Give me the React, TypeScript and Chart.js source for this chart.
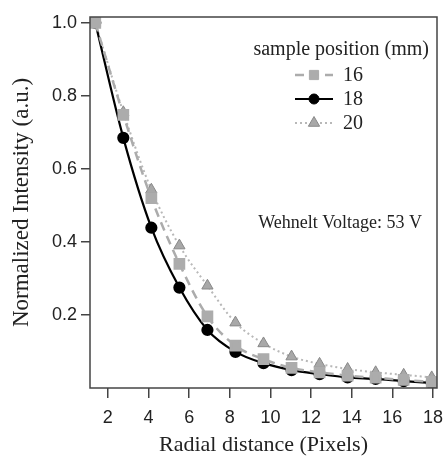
import React, { useEffect, useRef } from "react";
import { Chart, registerables } from "chart.js";

Chart.register(...registerables);

const radialPixels = [1.38, 2.76, 4.14, 5.52, 6.9, 8.28, 9.66, 11.04, 12.42, 13.8, 15.18, 16.56, 17.94];
const pos16 = [1.0, 0.748, 0.52, 0.34, 0.196, 0.116, 0.079, 0.055, 0.043, 0.034, 0.028, 0.022, 0.017];
const pos18 = [1.0, 0.685, 0.439, 0.275, 0.159, 0.099, 0.068, 0.049, 0.038, 0.029, 0.025, 0.019, 0.014];
const pos20 = [1.0, 0.755, 0.543, 0.39, 0.28, 0.179, 0.122, 0.086, 0.066, 0.052, 0.043, 0.036, 0.029];
const seriesLabels = ["16", "18", "20"];
const xTicks = [2, 4, 6, 8, 10, 12, 14, 16, 18];
const yTicks = [0.2, 0.4, 0.6, 0.8, 1.0];
const legendTitle = "sample position (mm)";
const annotationText = "Wehnelt Voltage: 53 V";
const xTitle = "Radial distance (Pixels)";
const yTitle = "Normalized Intensity (a.u.)";

const SERIF = "'Liberation Serif', 'Times New Roman', serif";
const SANS = "'Liberation Sans', Arial, sans-serif";

const framePlugin = {
  id: "frameAndLegend",
  afterDatasetsDraw(chart: any) {
    const { ctx, chartArea } = chart;
    ctx.save();
    ctx.strokeStyle = "#444";
    ctx.lineWidth = 1.5;
    ctx.strokeRect(chartArea.left, chartArea.top, chartArea.right - chartArea.left, chartArea.bottom - chartArea.top);

    // annotation
    ctx.fillStyle = "#222";
    ctx.font = `18px ${SERIF}`;
    ctx.textAlign = "right";
    ctx.textBaseline = "middle";
    ctx.fillText(annotationText, 422, 223);

    // legend
    ctx.font = `20px ${SERIF}`;
    ctx.textAlign = "right";
    ctx.fillText(legendTitle, 429, 50);
    const ys = [75, 99, 123];
    chart.data.datasets.forEach((ds: any, i: number) => {
      const y = ys[i];
      const x0 = 295, x1 = 333, xm = 314;
      ctx.save();
      ctx.strokeStyle = ds.borderColor;
      ctx.lineWidth = ds.borderWidth;
      ctx.setLineDash(ds.borderDash || []);
      ctx.beginPath();
      ctx.moveTo(x0, y);
      ctx.lineTo(x1, y);
      ctx.stroke();
      ctx.restore();
      ctx.save();
      ctx.fillStyle = ds.pointBackgroundColor;
      ctx.strokeStyle = ds.pointBorderColor;
      ctx.lineWidth = 1;
      const r = ds.pointRadius;
      ctx.beginPath();
      if (ds.pointStyle === "rect") {
        const s = r * Math.SQRT1_2;
        ctx.rect(xm - s, y - s, 2 * s, 2 * s);
      } else if (ds.pointStyle === "triangle") {
        ctx.moveTo(xm, y - r);
        ctx.lineTo(xm + r * 0.866, y + r * 0.5);
        ctx.lineTo(xm - r * 0.866, y + r * 0.5);
        ctx.closePath();
      } else {
        ctx.arc(xm, y, r, 0, Math.PI * 2);
      }
      ctx.fill();
      ctx.stroke();
      ctx.restore();
      ctx.fillStyle = "#222";
      ctx.textAlign = "left";
      ctx.font = `20px ${SERIF}`;
      ctx.fillText(ds.label, 343, y + 1);
    });
    ctx.restore();
  },
};

export default function App() {
  const ref = useRef<HTMLCanvasElement | null>(null);
  useEffect(() => {
    if (!ref.current) return;
    const mk = (ys: number[]) => radialPixels.map((x, i) => ({ x, y: ys[i] }));
    const chart = new Chart(ref.current, {
      type: "line",
      data: {
        datasets: [
          {
            label: seriesLabels[0],
            data: mk(pos16),
            borderColor: "#acacac",
            borderWidth: 2.5,
            borderDash: [9, 6],
            pointStyle: "rect",
            pointRadius: 6.5,
            pointBackgroundColor: "#acacac",
            pointBorderColor: "#acacac",
            cubicInterpolationMode: "monotone",
          },
          {
            label: seriesLabels[1],
            data: mk(pos18),
            borderColor: "#000",
            borderWidth: 2.2,
            pointStyle: "circle",
            pointRadius: 5,
            pointBackgroundColor: "#000",
            pointBorderColor: "#000",
            cubicInterpolationMode: "monotone",
          },
          {
            label: seriesLabels[2],
            data: mk(pos20),
            borderColor: "#b8b8b8",
            borderWidth: 2,
            borderDash: [2, 3],
            pointStyle: "triangle",
            pointRadius: 6.5,
            pointBackgroundColor: "#a8a8a8",
            pointBorderColor: "#888",
            pointBorderWidth: 1,
            cubicInterpolationMode: "monotone",
          },
        ],
      } as any,
      options: {
        animation: false,
        responsive: false,
        layout: { padding: { top: 17, right: 0, left: 4, bottom: 0 } },
        plugins: { legend: { display: false }, tooltip: { enabled: false } },
        scales: {
          x: {
            type: "linear",
            min: 1.12,
            max: 18.2,
            afterBuildTicks: (s: any) => { s.ticks = xTicks.map((v) => ({ value: v })); },
            afterFit: (s: any) => { s.height = 70; s.paddingRight = 6; },
            border: { display: false },
            grid: { drawOnChartArea: false, tickLength: 10, color: "#444", lineWidth: 1.5 },
            ticks: { color: "#222", font: { family: SANS, size: 18 }, padding: 9, maxRotation: 0 },
            title: { display: true, text: xTitle, color: "#222", font: { family: SERIF, size: 22 }, padding: { top: 0, bottom: 0 } },
          },
          y: {
            type: "linear",
            min: 0,
            max: 1.016,
            afterBuildTicks: (s: any) => { s.ticks = yTicks.map((v) => ({ value: v })); },
            afterFit: (s: any) => { s.width = 86; },
            border: { display: false },
            grid: { drawOnChartArea: false, tickLength: 9, color: "#444", lineWidth: 1.5 },
            ticks: { color: "#222", font: { family: SANS, size: 18 }, padding: 4, callback: (v: any) => Number(v).toFixed(1) },
            title: { display: true, text: yTitle, color: "#222", font: { family: SERIF, size: 23 }, padding: { bottom: 4 } },
          },
        },
      } as any,
      plugins: [framePlugin],
    });
    return () => chart.destroy();
  }, []);
  return (
    <div style={{ position: "fixed", left: 0, top: 0, width: 446, height: 458, background: "#fff" }}>
      <canvas ref={ref} width={446} height={458} style={{ width: 446, height: 458 }} />
    </div>
  );
}
